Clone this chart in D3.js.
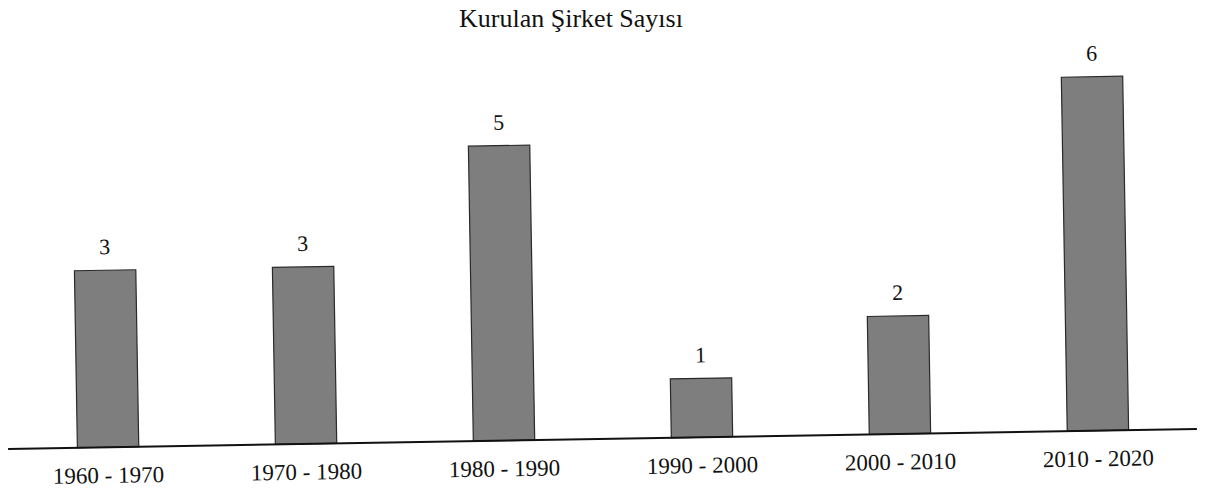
<!DOCTYPE html>
<html>
<head>
<meta charset="utf-8">
<script src="https://cdn.jsdelivr.net/npm/d3@7"></script>
<style>
  html, body { margin: 0; padding: 0; background: #fff; }
  svg { display: block; }
  text { font-family: "Liberation Serif", "Times New Roman", serif; fill: #111; }
</style>
</head>
<body>
<svg id="chart" width="1206" height="488"></svg>
<script>
// Number of companies founded per decade
const title = "Kurulan Şirket Sayısı";
const periods = ["1960 - 1970", "1970 - 1980", "1980 - 1990", "1990 - 2000", "2000 - 2010", "2010 - 2020"];
const companies = [3, 3, 5, 1, 2, 6];

const W = 1206, H = 488;
const baseY = 439;
const svg = d3.select("#chart");

svg.append("text")
  .attr("x", 571).attr("y", 27)
  .attr("text-anchor", "middle")
  .attr("font-size", 26)
  .text(title);

// the printed page sits slightly tilted
const g = svg.append("g").attr("transform", `rotate(-0.96, 600, ${baseY})`);

const x = d3.scaleBand().domain(periods).range([9, 1197]).paddingInner(0.69).paddingOuter(0.345);
const y = d3.scaleLinear().domain([0, 6]).range([baseY, baseY - 354]);

g.selectAll("rect.bar").data(companies).join("rect")
  .attr("class", "bar")
  .attr("x", (d, i) => x(periods[i]))
  .attr("y", d => y(d))
  .attr("width", x.bandwidth())
  .attr("height", d => y(0) - y(d))
  .attr("fill", "#7e7e7e")
  .attr("stroke", "#2a2a2a")
  .attr("stroke-width", 1.2);

g.selectAll("text.val").data(companies).join("text")
  .attr("class", "val")
  .attr("x", (d, i) => x(periods[i]) + x.bandwidth() / 2)
  .attr("y", d => y(d) - 16)
  .attr("text-anchor", "middle")
  .attr("font-size", 22)
  .text(d => d);

const axis = d3.axisBottom(x).tickSize(0).tickPadding(15);
const ax = g.append("g").attr("transform", `translate(0, ${baseY})`).call(axis);
ax.select(".domain").attr("stroke", "#111").attr("stroke-width", 2).attr("d", "M8,0H1197");
ax.selectAll(".tick text")
  .attr("font-family", "Liberation Serif, Times New Roman, serif")
  .attr("font-size", 23)
  .attr("fill", "#111")
  .attr("dy", "0.9em");
</script>
</body>
</html>
